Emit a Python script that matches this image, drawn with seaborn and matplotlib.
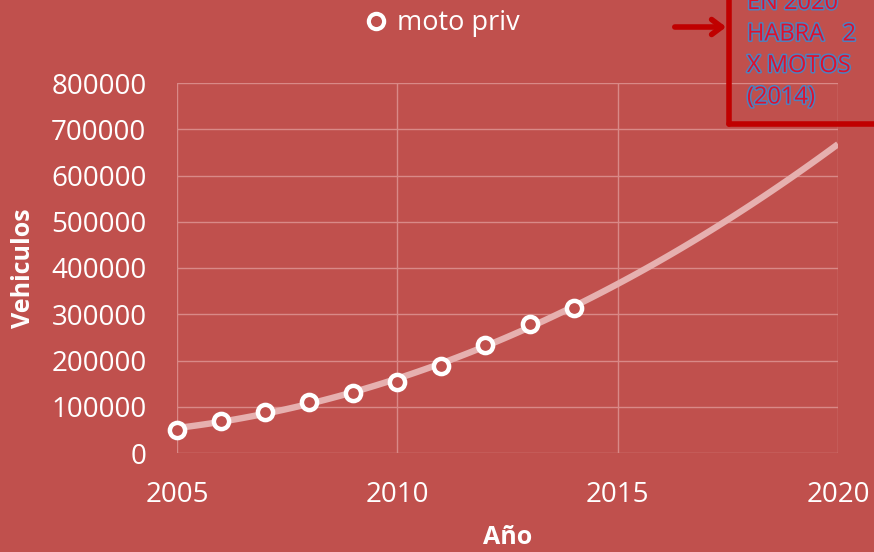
import matplotlib
matplotlib.use("Agg")
import matplotlib.pyplot as plt
import matplotlib.patheffects as pe
from matplotlib.lines import Line2D
import seaborn as sns
import pandas as pd

years = [2005, 2006, 2007, 2008, 2009, 2010, 2011, 2012, 2013, 2014]
motos = [49700, 69800, 89300, 111000, 130400, 154200, 188800, 233500, 278900, 313500]
series_name = "moto priv"
x_ticks = [2005, 2010, 2015, 2020]
y_ticks = [0, 100000, 200000, 300000, 400000, 500000, 600000, 700000, 800000]
note_lines = ["EN 2020", "HABRA   2", "X MOTOS", "(2014)"]

BG = "#C0504D"
df = pd.DataFrame({"Año": years, "Vehiculos": motos})

sns.set_theme(style="white")
plt.rcParams["font.family"] = ["Open Sans", "DejaVu Sans"]

fig = plt.figure(figsize=(8.74, 5.52), dpi=100, facecolor=BG)
ax = fig.add_axes([177 / 874, 1 - 453 / 552, (838 - 177) / 874, (453 - 83) / 552])
ax.set_facecolor(BG)
ax.set_xlim(2005, 2020)
ax.set_ylim(0, 800000)

# trend line (2nd order polynomial, extended to 2020)
sns.regplot(data=df, x="Año", y="Vehiculos", order=2, ci=None, scatter=False,
            truncate=False, ax=ax,
            line_kws=dict(color="#E6B0AF", lw=4.6, zorder=2, solid_capstyle="butt"))

sns.scatterplot(data=df, x="Año", y="Vehiculos", ax=ax, s=120, marker="o",
                facecolor=BG, edgecolor="white", linewidth=3.2, zorder=3, clip_on=False)

ax.set_xlim(2005, 2020)
ax.set_ylim(0, 800000)
ax.set_xticks(x_ticks)
ax.set_yticks(y_ticks)
ax.set_xticklabels([str(v) for v in x_ticks])
ax.set_yticklabels([str(v) for v in y_ticks])
ax.grid(True, color="#D98987", lw=1.0)
for s in ax.spines.values():
    s.set_visible(False)
ax.tick_params(axis="both", colors="white", labelsize=20, length=0)
ax.tick_params(axis="x", pad=20)
ax.tick_params(axis="y", pad=22)
ax.set_xlabel("Año", color="white", fontsize=18, fontweight="bold")
ax.set_ylabel("Vehiculos", color="white", fontsize=18, fontweight="bold")
ax.yaxis.set_label_coords(-(177 - 36) / 661, 0.5)
ax.xaxis.set_label_coords((508 - 177) / 661, -(525 - 453) / 370)

# legend
h = Line2D([], [], marker="o", ls="none", markersize=11, markerfacecolor=BG,
           markeredgecolor="white", markeredgewidth=3.0)
fig.legend([h], [series_name], loc="center", bbox_to_anchor=(441 / 874, 1 - 23 / 552),
           frameon=False, fontsize=19.5, labelcolor="white", handletextpad=0.25,
           handlelength=1.0)

# annotation box
RED = "#C00000"
fig.add_artist(Line2D([729 / 874, 729 / 874], [1.01, 1 - 124 / 552], color=RED, lw=4,
                      transform=fig.transFigure, solid_capstyle="round"))
fig.add_artist(Line2D([729 / 874, 1.01], [1 - 124 / 552, 1 - 124 / 552], color=RED, lw=4,
                      transform=fig.transFigure, solid_capstyle="round"))
ax.annotate("", xy=(729 / 874, 1 - 27 / 552), xycoords="figure fraction",
            xytext=(672 / 874, 1 - 27 / 552), textcoords="figure fraction",
            arrowprops=dict(arrowstyle="->,head_length=0.6,head_width=0.45", color=RED, lw=4))
for i, line in enumerate(note_lines):
    fig.text(747 / 874, 1 - (3 + 31.5 * i) / 552, line, color="#E0112B", fontsize=17,
             ha="left", va="center",
             path_effects=[pe.withStroke(linewidth=2.2, foreground="#4F81BD")])

fig.savefig("out.png", dpi=100, facecolor=BG)
